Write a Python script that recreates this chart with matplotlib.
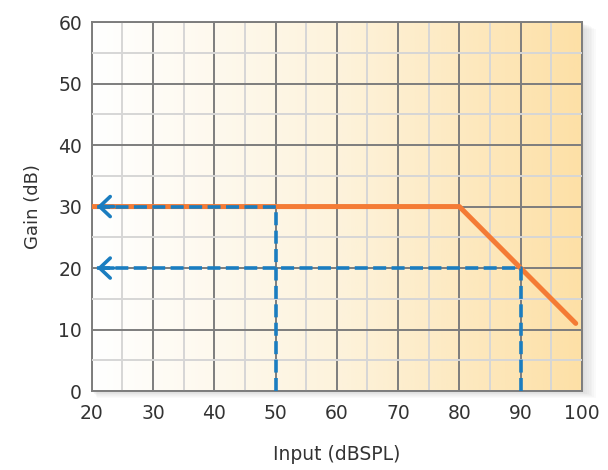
import numpy as np
import matplotlib.pyplot as plt
from matplotlib.colors import LinearSegmentedColormap
from matplotlib.patches import Rectangle

# compression curve
curve_x = [20, 80, 99]
curve_y = [30, 30, 11]

# guide lines: input level -> gain
guide_inputs = [50, 90]
guide_gains = [30, 20]

x_ticks = [20, 30, 40, 50, 60, 70, 80, 90, 100]
y_ticks = [0, 10, 20, 30, 40, 50, 60]

orange = "#f47b35"
blue = "#1a7dc0"

fig = plt.figure(figsize=(6.08, 4.70), dpi=100)
ax_pos = [0.151, 0.168, 0.806, 0.785]

# soft drop shadow behind the plot area
for i in range(8):
    off = (i + 1) * 0.0022
    fig.patches.append(Rectangle((ax_pos[0] + off * 0.5, ax_pos[1] - off * 0.8),
                                 ax_pos[2] + off * 0.8, ax_pos[3],
                                 transform=fig.transFigure, facecolor="#808080",
                                 alpha=0.035, edgecolor="none", zorder=-5))

ax = fig.add_axes(ax_pos)
ax.set_zorder(2)

# white -> pale orange background
cmap = LinearSegmentedColormap.from_list("bg", ["#ffffff", "#fdf3dc", "#fde0a6"])
grad = np.linspace(0, 1, 256).reshape(1, -1)
ax.imshow(grad, cmap=cmap, aspect="auto", extent=[20, 100, 0, 60], zorder=0)

ax.set_xlim(20, 100)
ax.set_ylim(0, 60)
ax.set_xticks(x_ticks)
ax.set_yticks(y_ticks)
ax.set_xticks(np.arange(25, 100, 10), minor=True)
ax.set_yticks(np.arange(5, 60, 10), minor=True)
ax.grid(True, which="major", color="#7d7d7d", linewidth=1.4, zorder=1)
ax.grid(True, which="minor", color="#d6d6d6", linewidth=1.4, zorder=1)
ax.set_axisbelow(False)
ax.tick_params(which="both", length=0, labelsize=13.5, colors="#333333")
ax.tick_params(axis="x", pad=9)
ax.tick_params(axis="y", pad=7)
for s in ax.spines.values():
    s.set_color("#7d7d7d")
    s.set_linewidth(1.4)

ax.plot(curve_x, curve_y, color=orange, linewidth=3.6, solid_capstyle="round", zorder=3)

for gx, gy in zip(guide_inputs, guide_gains):
    ax.plot([gx, gx, 20.4], [0, gy, gy], color=blue, linewidth=2.6,
            linestyle=(0, (3.6, 1.5)), zorder=4)
    ax.annotate("", xy=(20.4, gy), xytext=(24, gy),
                arrowprops=dict(arrowstyle="->,head_length=0.38,head_width=0.36",
                                mutation_scale=20, color=blue, lw=2.6), zorder=5)

ax.set_xlabel("Input (dBSPL)", fontsize=13.5, color="#333333", labelpad=16)
ax.set_ylabel("Gain (dB)", fontsize=13, color="#333333", labelpad=12)

fig.savefig("out.png", dpi=100)
